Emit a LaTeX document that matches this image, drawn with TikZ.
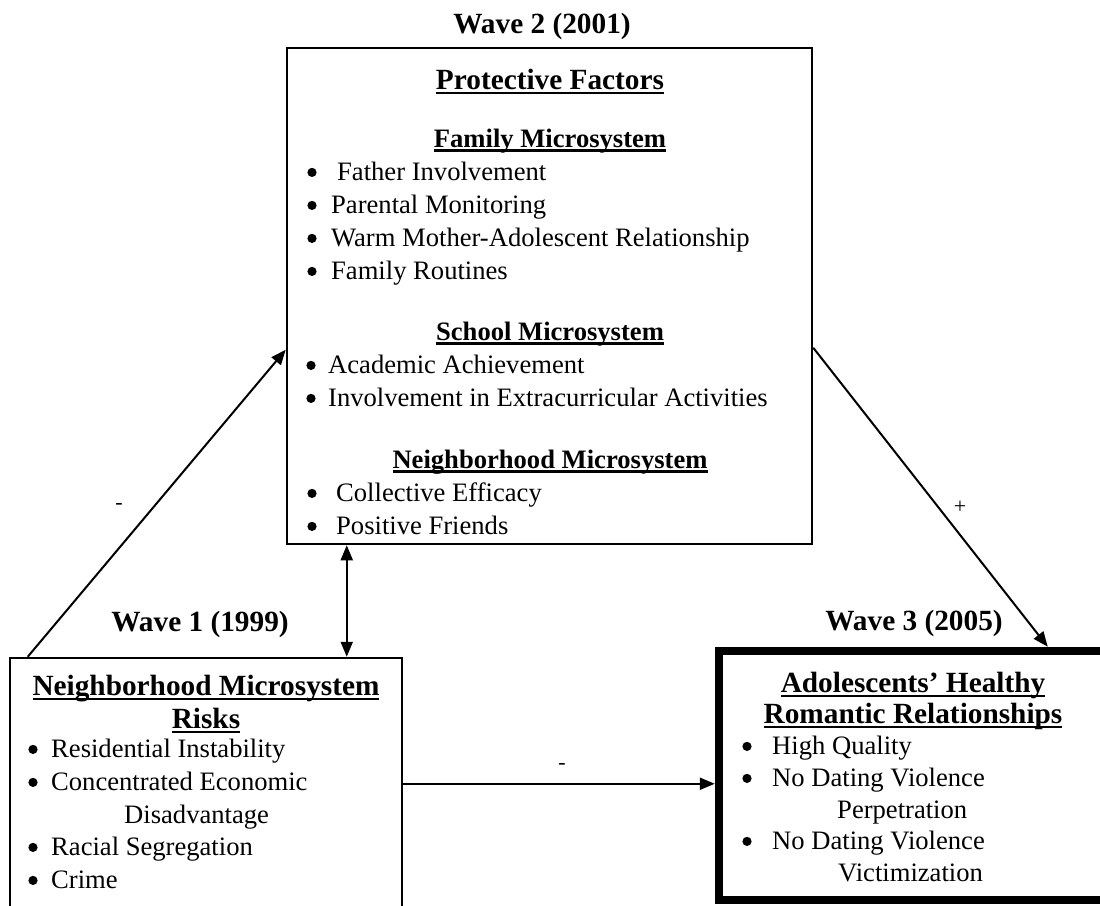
\documentclass[tikz,border=0pt]{standalone}
\usepackage{fontspec}
\setmainfont{Liberation Serif}
\usetikzlibrary{arrows.meta,calc}
\newsavebox\ulbox
\newcommand\myul[1]{\sbox\ulbox{#1}\rlap{\rule[-0.17em]{\wd\ulbox}{0.08em}}\usebox\ulbox}
\newcommand\fsbody{\fontsize{26.6pt}{30pt}\selectfont}
\newcommand\fsbig{\fontsize{29.3pt}{33pt}\selectfont}
\newcommand\fssign{\fontsize{22pt}{24pt}\selectfont}
% #1 name, #2 bullet centre x, #3 baseline y, #4 text x, #5 text
\newcommand\bitem[5]{\fill[black] (#2,#3-7.6) circle[radius=4.6pt];
  \node[item] (#1) at (#4,#3) {#5};}
\tikzset{
  box/.style={draw=black, line width=2.5pt, minimum width=#1, inner sep=0pt},
  item/.style={anchor=base west, inner sep=0pt, font=\fsbody},
  head/.style={anchor=base, inner sep=0pt, font=\fsbody\bfseries},
  bighead/.style={anchor=base, inner sep=0pt, font=\fsbig\bfseries},
  sign/.style={inner sep=0pt, font=\fssign},
  conn/.style={line width=2pt, -{Triangle[length=15pt,width=12pt]}},
  dconn/.style={line width=2pt, {Triangle[length=15pt,width=12pt]}-{Triangle[length=15pt,width=12pt]}}
}
\begin{document}
\begin{tikzpicture}[x=1pt,y=-1pt]
\useasboundingbox (0,0) rectangle (1100,905);
\clip (0,0) rectangle (1100,905);
\fill[white] (0,0) rectangle (1100,905);
% boxes
\node[box=525pt, minimum height=496pt] (pf) at (549.5,296) {};
\node[box=392pt, minimum height=302pt] (rk) at (206,809) {};
\node[draw=black, line width=8.5pt, minimum width=411pt, minimum height=249pt, inner sep=0pt] (rr) at (924.5,775.5) {};
% wave labels
\node[bighead] (w2) at (542,33) {Wave 2 (2001)};
\node[bighead] (w1) at (200,631) {Wave 1 (1999)};
\node[bighead] (w3) at (914,630) {Wave 3 (2005)};
% protective factors box
\node[bighead] (pft) at (550,89) {\myul{Protective Factors}};
\node[head] (fam) at (550,147) {\myul{Family Microsystem}};
\bitem{f1}{312}{180}{337}{Father Involvement}
\bitem{f2}{312}{213}{331}{Parental Monitoring}
\bitem{f3}{312}{246}{331}{Warm Mother-Adolescent Relationship}
\bitem{f4}{312}{279}{331}{Family Routines}
\node[head] (sch) at (550,340) {\myul{School Microsystem}};
\bitem{s1}{311}{373}{328}{Academic Achievement}
\bitem{s2}{311}{406}{328}{Involvement in Extracurricular Activities}
\node[head] (nbh) at (550,468) {\myul{Neighborhood Microsystem}};
\bitem{n1}{312}{501}{336}{Collective Efficacy}
\bitem{n2}{312}{534}{336}{Positive Friends}
% risks box
\node[bighead] (rkt1) at (206,695) {\myul{Neighborhood Microsystem}};
\node[bighead] (rkt2) at (206,728) {\myul{Risks}};
\bitem{r1}{33}{757}{51}{Residential Instability}
\bitem{r2}{33}{790}{51}{Concentrated Economic}
\node[item] (r2b) at (124,823) {Disadvantage};
\bitem{r3}{33}{855}{51}{Racial Segregation}
\bitem{r4}{33}{888}{51}{Crime}
% outcome box
\node[bighead] (rrt1) at (913,692) {\myul{Adolescents’ Healthy}};
\node[bighead] (rrt2) at (913,723) {\myul{Romantic Relationships}};
\bitem{o1}{747}{754}{772}{High Quality}
\bitem{o2}{747}{786}{772}{No Dating Violence}
\node[item] (o2b) at (837,818) {Perpetration};
\bitem{o3}{747}{849}{772}{No Dating Violence}
\node[item] (o3b) at (838,881) {Victimization};
% connectors
\coordinate (a1s) at ($(rk.north west)+(19,0)$);
\coordinate (a1e) at ($(pf.north west)+(0,303)$);
\coordinate (a2s) at ($(pf.north east)+(0,301)$);
\coordinate (a2e) at ($(rr.north west)+(333,0)$);
\coordinate (a3s) at ($(rk.north east)+(0,127)$);
\coordinate (a3e) at (rr.west |- a3s);
\coordinate (a4s) at ($(pf.south west)+(61,0)$);
\coordinate (a4e) at (rk.north -| a4s);
\draw[conn] (a1s) -- (a1e);
\draw[conn] (a2s) -- (a2e);
\draw[conn] (a3s) -- (a3e);
\draw[dconn] (a4s) -- (a4e);
% signs
\node[sign] (m1) at (119,506) {-};
\node[sign] (p1) at (960,507) {+};
\node[sign] (m2) at (562,766) {-};
\end{tikzpicture}
\end{document}
